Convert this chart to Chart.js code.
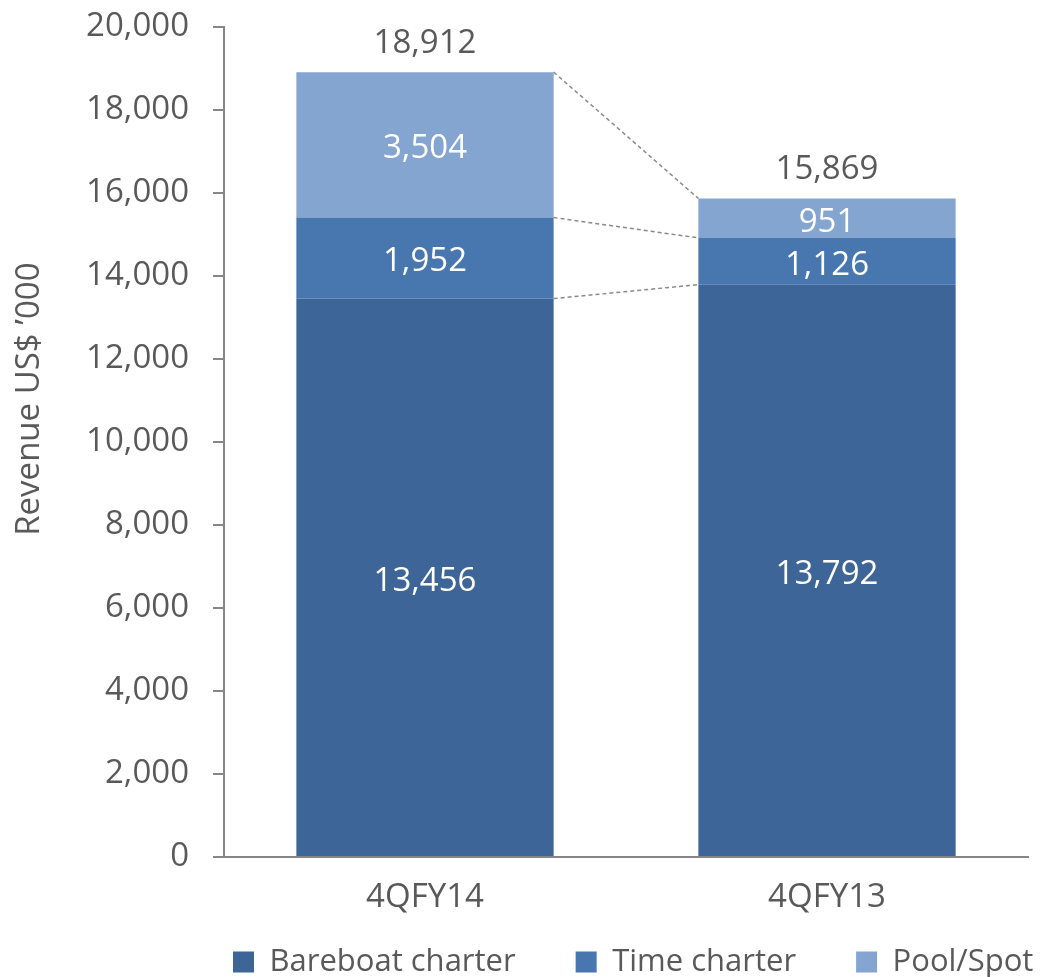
<!DOCTYPE html>
<html>
<head>
<meta charset="utf-8">
<script src="https://cdn.jsdelivr.net/npm/chart.js@4"></script>
<style>
  html, body { margin: 0; padding: 0; background: #fff; }
  #wrap { width: 1040px; height: 977px; }
</style>
</head>
<body>
<div id="wrap"><canvas id="revChart" width="1040" height="977"></canvas></div>
<script>
        // Data
        const quarters = ['4QFY14', '4QFY13'];
        const bareboat = [13456, 13792];
        const timeCharter = [1952, 1126];
        const poolSpot = [3504, 951];
        const totals = [18912, 15869];
        const yTicks = [0, 2000, 4000, 6000, 8000, 10000, 12000, 14000, 16000, 18000, 20000];

        const FONT = '"Open Sans", "Liberation Sans", sans-serif';
        const FS = 33;
        const LEGEND_FS = 31;
        const TEXT_GREY = '#595959';
        const AXIS_GREY = '#868686';
        const fmt = v => Number(v).toLocaleString('en-US');

        // labels inside bars, totals on top, dashed connectors between bars
        const barExtras = {
            id: 'barExtras',
            afterLayout(chart) {
                // move legend row to where the original has it
                const lg = chart.legend;
                const pad = lg.options.labels.padding;
                const dx = 233 - (lg.left + pad);
                lg.left += dx; lg.right += dx;
                lg.top = 962 - pad - LEGEND_FS / 2;
                lg.bottom = chart.height;
                lg.height = lg.bottom - lg.top;
            },
            afterDatasetsDraw(chart) {
                const ctx = chart.ctx;
                const y = chart.scales.y;
                const metas = chart.data.datasets.map((d, i) => chart.getDatasetMeta(i));

                // connectors
                ctx.save();
                ctx.strokeStyle = '#8a8a8a';
                ctx.lineWidth = 1.5;
                ctx.setLineDash([4, 3]);
                metas.forEach(meta => {
                    const a = meta.data[0], b = meta.data[1];
                    ctx.beginPath();
                    ctx.moveTo(a.x + a.width / 2, a.y);
                    ctx.lineTo(b.x - b.width / 2, b.y);
                    ctx.stroke();
                });
                ctx.restore();

                // segment values
                ctx.save();
                ctx.font = FS + 'px ' + FONT;
                ctx.textAlign = 'center';
                ctx.textBaseline = 'middle';
                ctx.fillStyle = '#ffffff';
                metas.forEach((meta, di) => {
                    meta.data.forEach((el, i) => {
                        const v = chart.data.datasets[di].data[i];
                        ctx.fillText(fmt(v), el.x, (el.y + el.base) / 2 + 4);
                    });
                });

                // totals
                ctx.fillStyle = TEXT_GREY;
                totals.forEach((t, i) => {
                    const el = metas[0].data[i];
                    ctx.fillText(fmt(t), el.x, y.getPixelForValue(t) - 29);
                });
                ctx.restore();
            }
        };

        new Chart(document.getElementById('revChart'), {
            type: 'bar',
            data: {
                labels: quarters,
                datasets: [
                    { label: 'Bareboat charter', data: bareboat, backgroundColor: '#3D6597' },
                    { label: 'Time charter', data: timeCharter, backgroundColor: '#4877B0' },
                    { label: 'Pool/Spot', data: poolSpot, backgroundColor: '#83A5D0' }
                ]
            },
            options: {
                responsive: false,
                animation: false,
                devicePixelRatio: 1,
                layout: { padding: { top: 27, right: 12, left: 0, bottom: 0 } },
                datasets: { bar: { categoryPercentage: 1, barPercentage: 0.64, borderWidth: 0 } },
                scales: {
                    x: {
                        stacked: true,
                        grid: { display: false },
                        border: { display: true, color: AXIS_GREY, width: 2 },
                        ticks: { color: TEXT_GREY, font: { family: FONT, size: FS }, padding: 13 },
                        afterFit: s => { s.height = 56; s.paddingLeft = 0; s.paddingRight = 0; }
                    },
                    y: {
                        stacked: true,
                        min: 0,
                        max: 20000,
                        afterBuildTicks: s => { s.ticks = yTicks.map(v => ({ value: v })); },
                        grid: { drawOnChartArea: false, drawTicks: true, tickLength: 11, color: AXIS_GREY, lineWidth: 2 },
                        border: { display: true, color: AXIS_GREY, width: 2 },
                        ticks: { color: TEXT_GREY, font: { family: FONT, size: FS }, padding: 24, callback: v => fmt(v) },
                        title: {
                            display: true,
                            text: '\u00a0'.repeat(10) + 'Revenue US$ \u2019000',
                            color: TEXT_GREY,
                            font: { family: FONT, size: FS },
                            padding: { top: 10, bottom: 0 }
                        },
                        afterFit: s => { s.width = 224; s.paddingTop = 0; s.paddingBottom = 0; }
                    }
                },
                plugins: {
                    legend: {
                        position: 'bottom',
                        align: 'start',
                        maxHeight: 64,
                        labels: { color: TEXT_GREY, font: { family: FONT, size: LEGEND_FS }, boxWidth: 21, boxHeight: 21, padding: 60 }
                    },
                    tooltip: { enabled: false }
                }
            },
            plugins: [barExtras]
        });
</script>
</body>
</html>
